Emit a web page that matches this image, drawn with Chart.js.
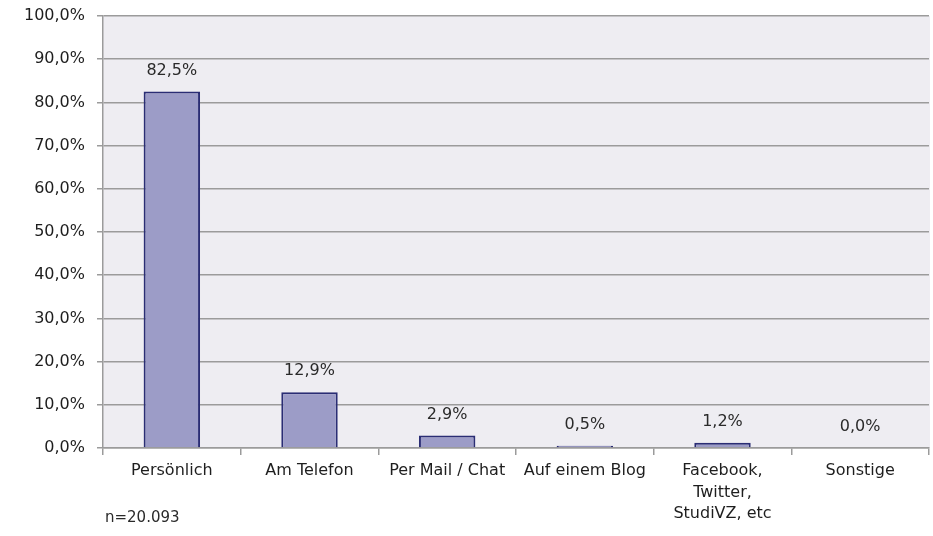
<!DOCTYPE html>
<html>
<head>
  <meta charset="UTF-8">
  <script src="https://cdn.jsdelivr.net/npm/chart.js"></script>
  <title>Kontakt</title>
  <style>
    html, body { margin: 0; padding: 0; background: #fff; }
    .wrap { position: relative; width: 933px; height: 536px; }
  </style>
</head>
<body>
  <div class="wrap">
    <canvas id="myChart" width="933" height="536"></canvas>
  </div>
  <script>
    var categories = ['Persönlich', 'Am Telefon', 'Per Mail / Chat', 'Auf einem Blog', ['Facebook,', 'Twitter,', 'StudiVZ, etc'], 'Sonstige'];
    var werte = [82.5, 12.9, 2.9, 0.5, 1.2, 0.0];
    var yTicks = [0, 10, 20, 30, 40, 50, 60, 70, 80, 90, 100];
    var fussnote = 'n=20.093';

    function prozent(v) {
      return v.toFixed(1).replace('.', ',') + '%';
    }

    // Hintergrund der Zeichenfläche, Werte über den Balken und Fußnote
    var extras = {
      id: 'extras',
      beforeDraw: function (chart) {
        var a = chart.chartArea, c = chart.ctx;
        c.save();
        c.fillStyle = '#eeedf2';
        c.fillRect(a.left, a.top, a.right - a.left + 1, a.bottom - a.top);
        c.restore();
      },
      afterDatasetsDraw: function (chart) {
        var c = chart.ctx;
        var meta = chart.getDatasetMeta(0);
        c.save();
        c.font = '16px "DejaVu Sans"';
        c.fillStyle = '#2a2a2a';
        c.textAlign = 'center';
        c.textBaseline = 'middle';
        meta.data.forEach(function (bar, i) {
          c.fillText(prozent(werte[i]), bar.x, bar.y - 21);
        });
        c.font = '15px "DejaVu Sans"';
        c.textAlign = 'left';
        c.fillText(fussnote, 105, 518);
        c.restore();
      }
    };

    var ctx = document.getElementById('myChart').getContext('2d');
    var chart = new Chart(ctx, {
      type: 'bar',
      data: {
        labels: categories,
        datasets: [{
          data: werte,
          backgroundColor: '#9c9cc7',
          borderColor: '#2a2d74',
          borderWidth: 2,
          categoryPercentage: 1,
          barPercentage: 0.41
        }]
      },
      options: {
        responsive: false,
        animation: false,
        layout: { padding: { top: 16, right: 4, left: 0, bottom: 0 } },
        plugins: {
          legend: { display: false },
          tooltip: { enabled: false }
        },
        scales: {
          x: {
            offset: true,
            grid: {
              offset: true,
              drawOnChartArea: false,
              drawTicks: true,
              tickLength: 7,
              color: '#9b9b9b',
              lineWidth: 1.5
            },
            border: { color: '#9b9b9b', width: 1.5 },
            ticks: {
              color: '#1e1e1e',
              font: { family: 'DejaVu Sans', size: 16, lineHeight: 1.35 },
              padding: 5,
              maxRotation: 0,
              autoSkip: false
            },
            afterFit: function (scale) { scale.height = 88; scale.paddingLeft = 0; scale.paddingRight = 0; }
          },
          y: {
            min: 0,
            max: 100,
            afterBuildTicks: function (scale) {
              scale.ticks = yTicks.map(function (v) { return { value: v }; });
            },
            grid: {
              color: '#9b9b9b',
              lineWidth: 1.5,
              drawTicks: true,
              tickLength: 6
            },
            border: { color: '#9b9b9b', width: 1.5 },
            ticks: {
              color: '#1e1e1e',
              font: { family: 'DejaVu Sans', size: 16 },
              padding: 12,
              callback: function (v) { return prozent(v); }
            },
            afterFit: function (scale) { scale.width = 103; scale.paddingTop = 0; scale.paddingBottom = 0; }
          }
        }
      },
      plugins: [extras]
    });
  </script>
</body>
</html>
